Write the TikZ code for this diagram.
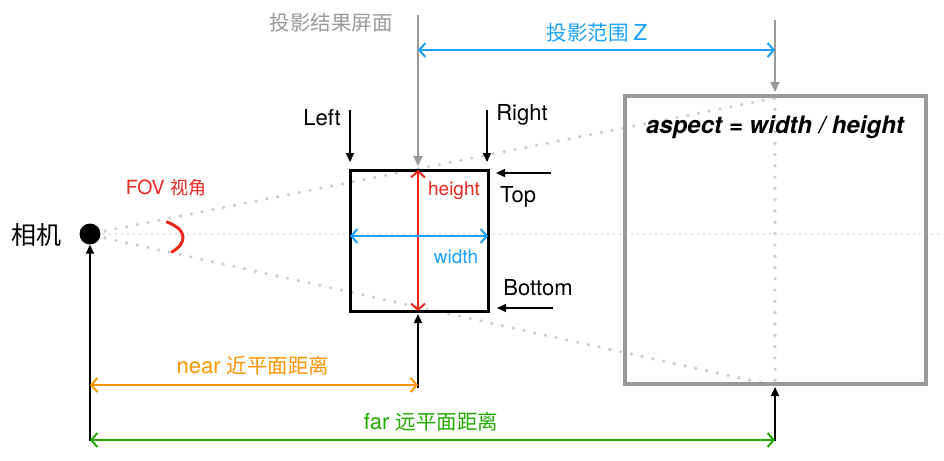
\documentclass[tikz,border=0pt]{standalone}
\usepackage{fontspec}
\setmainfont{TeX Gyre Heros}
\newfontfamily\cjkf{Noto Sans CJK SC}
\newcommand\cjk[1][20.5]{\fontsize{#1}{#1}\selectfont\cjkf}
\usetikzlibrary{arrows.meta}
\definecolor{cgray}{HTML}{999999}
\definecolor{cdot}{HTML}{CCCCCC}
\definecolor{cblue}{HTML}{1AA0FF}
\definecolor{cred}{HTML}{E8261C}
\definecolor{corange}{HTML}{FF9500}
\definecolor{cgreen}{HTML}{22AA00}
\tikzset{
  lbl/.style={font=\fontsize{22}{22}\selectfont, inner sep=0pt},
  small/.style={font=\fontsize{19}{19}\selectfont, inner sep=0pt},
  pointer/.style={line width=1.5pt, -{Triangle[length=9pt,width=8pt]}},
  gpointer/.style={line width=2pt, cgray, -{Triangle[length=10pt,width=9pt]}},
  dim/.style={line width=2pt, {Straight Barb[length=6pt,width=14pt]}-{Straight Barb[length=6pt,width=14pt]}},
  dotline/.style={cdot, line width=3.6pt, line cap=round, dash pattern=on 0pt off 11pt},
  fineline/.style={cdot, line width=1.6pt, line cap=round, dash pattern=on 0pt off 6pt}
}
\begin{document}
\begin{tikzpicture}[x=1pt,y=-1pt]
\useasboundingbox (0,0) rectangle (944,460);
% camera
\node[circle, fill=black, minimum size=21pt, inner sep=0] (cam) at (90,234) {};
\node[lbl] (camlbl) at (36,235) {\cjk[25]相机};
% dotted guides
\coordinate (cl) at (104,234);
\coordinate (cr) at (938,234);
\draw[fineline] (cl) -- (cr);
\coordinate (ft) at (105,231);
\coordinate (fb) at (105,238);
\coordinate (fartop) at (775,98);
\coordinate (farbot) at (767,384);
\draw[dotline] (ft) -- (fartop);
\draw[dotline] (fb) -- (farbot);
\draw[dotline, dash pattern=on 0pt off 11.3pt] (fartop) -- (775,384);
% boxes
\node[draw=black, line width=3pt, minimum width=138pt, minimum height=141pt, inner sep=0] (near) at (419,240.5) {};
\node[draw=cgray, line width=4pt, minimum width=301pt, minimum height=288pt, inner sep=0] (far) at (775.5,240) {};
% FOV arc
\coordinate (fa) at (167,222);
\coordinate (fc) at (172,252);
\draw[cred, line width=3pt, line cap=round] (fa) .. controls (188,230) and (187,243) .. (fc);
\node[lbl, cred, font=\fontsize{19.5}{19.5}\selectfont] (fov) at (166,188) {FOV \cjk[18]视角};
% top labels
\node[lbl, cgray] (scr) at (331,23) {\cjk 投影结果屏面};
\coordinate (g1s) at (418,15);
\coordinate (g1e) at (418,166);
\draw[gpointer] (g1s) -- (g1e);
\coordinate (g2s) at (775,20);
\coordinate (g2e) at (775,92);
\draw[gpointer] (g2s) -- (g2e);
\coordinate (z1) at (418,50);
\coordinate (z2) at (775,50);
\draw[dim, cblue] (z1) -- (z2);
\node[lbl, cblue] (zl) at (597,33) {\cjk 投影范围 \fontsize{22}{22}\selectfont\normalfont Z};
% side pointers
\node[lbl] (left) at (322,118) {Left};
\coordinate (ls) at (350,110); \coordinate (le) at (350,162);
\draw[pointer] (ls) -- (le);
\node[lbl] (right) at (522,115) {Right};
\coordinate (rs) at (487,110); \coordinate (re) at (487,162);
\draw[pointer] (rs) -- (re);
\node[lbl] (top) at (518,197) {Top};
\coordinate (ts) at (551,173); \coordinate (te) at (496,173);
\draw[pointer] (ts) -- (te);
\node[lbl] (bottom) at (538,288) {Bottom};
\coordinate (bs) at (553,308); \coordinate (be) at (497,308);
\draw[pointer] (bs) -- (be);
% height / width
\coordinate (h1) at (418,170); \coordinate (h2) at (418,311);
\draw[dim, cred] (h1) -- (h2);
\node[small, cred] (hl) at (454,191) {height};
\coordinate (w1) at (350,236); \coordinate (w2) at (488,236);
\draw[dim, cblue] (w1) -- (w2);
\node[small, cblue] (wl) at (456,257) {width};
% aspect
\node[lbl, font=\fontsize{24}{24}\selectfont\bfseries\itshape] (asp) at (775,127) {aspect = width / height};
% bottom pointers
\coordinate (c0) at (90,441);
\draw[pointer] (c0) -- (cam);
\coordinate (n0) at (418,388); \coordinate (n1) at (418,314);
\draw[pointer] (n0) -- (n1);
\coordinate (f0) at (775,441); \coordinate (f1) at (775,387);
\draw[pointer] (f0) -- (f1);
% near / far
\coordinate (nd1) at (90,385); \coordinate (nd2) at (418,385);
\draw[dim, corange] (nd1) -- (nd2);
\node[lbl, corange] (nl) at (253,366) {near \cjk 近平面距离};
\coordinate (fd1) at (90,440); \coordinate (fd2) at (775,440);
\draw[dim, cgreen] (fd1) -- (fd2);
\node[lbl, cgreen] (fl) at (431,422) {far \cjk 远平面距离};
\end{tikzpicture}
\end{document}
